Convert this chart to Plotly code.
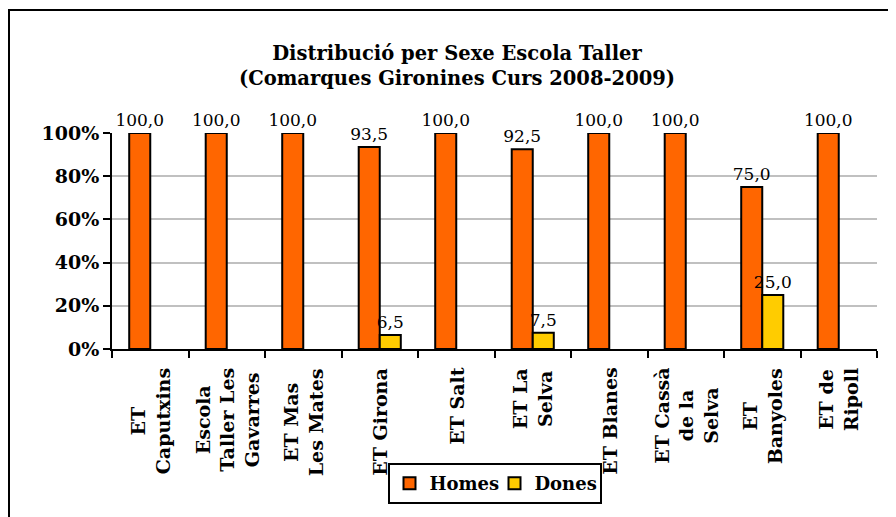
import plotly.graph_objects as go

categories = [
    "ET<br>Caputxins",
    "Escola<br>Taller Les<br>Gavarres",
    "ET Mas<br>Les Mates",
    "ET Girona",
    "ET Salt",
    "ET La<br>Selva",
    "ET Blanes",
    "ET Cassà<br>de la<br>Selva",
    "ET<br>Banyoles",
    "ET de<br>Ripoll",
]
homes = [100.0, 100.0, 100.0, 93.5, 100.0, 92.5, 100.0, 100.0, 75.0, 100.0]
dones = [0.0, 0.0, 0.0, 6.5, 0.0, 7.5, 0.0, 0.0, 25.0, 0.0]
y_ticks = [0, 20, 40, 60, 80, 100]
y_tick_labels = ["0%", "20%", "40%", "60%", "80%", "100%"]

FONT = "DejaVu Serif"


def fmt(v):
    return f"{v:.1f}".replace(".", ",")


fig = go.Figure()
fig.add_trace(go.Bar(
    name="Homes", x=categories, y=[v if v > 0 else None for v in homes],
    marker=dict(color="#FF6600", line=dict(color="black", width=2)),
    text=[fmt(v) if v > 0 else "" for v in homes], textposition="outside",
    textfont=dict(family=FONT, size=17, color="black"),
    constraintext="none", cliponaxis=False,
))
fig.add_trace(go.Bar(
    name="Dones", x=categories, y=[v if v > 0 else None for v in dones],
    marker=dict(color="#FFCC00", line=dict(color="black", width=2)),
    text=[fmt(v) if v > 0 else "" for v in dones], textposition="outside",
    textfont=dict(family=FONT, size=17, color="black"),
    constraintext="none", cliponaxis=False,
))

# page body has an 8px margin, so work in page pixels minus that offset
OFF = 8
W, H = 896 - OFF, 517 - OFF
L, R, T, B = 112 - OFF, 877 - OFF, 133 - OFF, 349 - OFF
pw, ph = R - L, B - T

# category labels: rotated, lines centred, block anchored just below the axis
for cat in categories:
    fig.add_annotation(
        x=cat, xref="x", y=-(367 - 349) / ph, yref="paper",
        text=f"<b>{cat}</b>", textangle=-90, align="center",
        xanchor="center", yanchor="top", showarrow=False, borderpad=0,
        font=dict(family=FONT, size=19, color="black"),
    )

fig.update_layout(
    width=W, height=H,
    margin=dict(l=L, r=W - R, t=T, b=H - B, pad=0, autoexpand=False),
    paper_bgcolor="white", plot_bgcolor="white",
    barmode="group", bargap=0.45, bargroupgap=0,
    font=dict(family=FONT, size=18, color="black"),
    title=dict(
        text="<b>Distribució per Sexe Escola Taller<br>(Comarques Gironines Curs 2008-2009)</b>",
        font=dict(family=FONT, size=19.5, color="black"),
        x=(457 - OFF) / W, xref="container", xanchor="center",
        y=1 - 52 / H, yref="container", yanchor="top",
    ),
    legend=dict(
        orientation="h", x=0.5, xanchor="center",
        y=1 - (463 - OFF) / H, yref="container", yanchor="top",
        bordercolor="black", borderwidth=2, bgcolor="white",
        font=dict(family=FONT, size=18, color="black", weight="bold"),
        itemwidth=30, tracegroupgap=0,
        entrywidth=60, entrywidthmode="pixels",
    ),
    showlegend=True,
)
fig.update_xaxes(
    automargin=False,
    showline=True, linecolor="black", linewidth=2,
    ticks="outside", tickson="boundaries", ticklen=7, tickwidth=2, tickcolor="black",
    showticklabels=False, showgrid=False,
)
fig.update_yaxes(
    automargin=False,
    range=[0, 100], tickvals=y_ticks, ticktext=y_tick_labels,
    showline=True, linecolor="black", linewidth=2,
    ticks="outside", ticklen=7, tickwidth=2, tickcolor="black",
    tickfont=dict(family=FONT, size=19, color="black", weight="bold"),
    showgrid=True, gridcolor="#C0C0C0", gridwidth=2, zeroline=False,
)
fig.add_shape(
    type="rect", xref="paper", yref="paper",
    x0=(1 - L) / pw, x1=(W + 20 - L) / pw,
    y0=(B - (H + 20)) / ph, y1=(B - (10 - OFF)) / ph,
    line=dict(color="black", width=2), fillcolor="rgba(0,0,0,0)", layer="below",
)
fig.write_html("out.html")
